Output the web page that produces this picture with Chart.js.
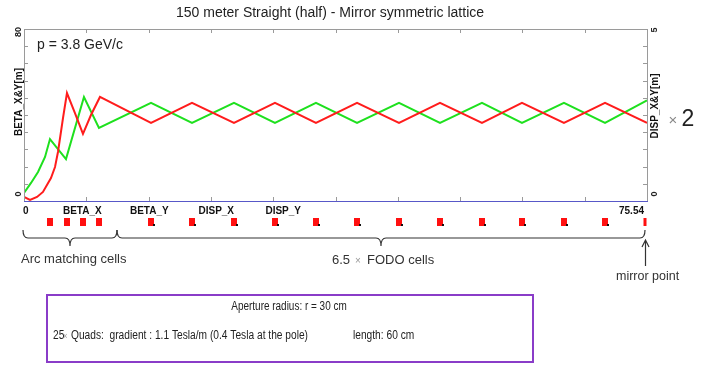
<!DOCTYPE html>
<html>
<head>
<meta charset="utf-8">
<script src="https://cdn.jsdelivr.net/npm/chart.js@4"></script>
<style>
  body { margin: 0; background: #fff; }
  #lattice { display: block; }
</style>
</head>
<body>
<canvas id="lattice" width="706" height="376"></canvas>
<script>
// beta functions along the half straight (s in metres)
const sBetaX = [0, 0.73, 1.58, 2.3, 3.27, 3.76, 4.12, 4.73, 5.21, 6.18, 7.15, 8.12, 9.21,
  15.4, 20.37, 25.46, 30.43, 35.4, 40.38, 45.47, 50.44, 55.53, 60.38, 65.47, 70.45, 75.54];
const betaX = [1.9, 0.5, 1.9, 4.2, 10.7, 15.8, 22.8, 38.6, 50.2, 40.9, 31.2, 40.0, 48.4,
  36.3, 45.6, 36.3, 45.6, 36.3, 45.6, 36.3, 45.6, 36.3, 45.6, 36.3, 45.6, 36.3];

const sBetaY = [0, 0.85, 1.7, 2.55, 3.15, 5.09, 7.27, 9.09,
  15.4, 20.37, 25.46, 30.43, 35.4, 40.38, 45.47, 50.44, 55.53, 60.38, 65.47, 70.45, 75.54];
const betaY = [3.7, 8.4, 13.5, 20.5, 28.8, 19.5, 48.4, 34.0,
  45.6, 36.3, 45.6, 36.3, 45.6, 36.3, 45.6, 36.3, 45.6, 36.3, 45.6, 36.3, 46.8];

// quadrupole positions (first four = arc matching)
const quadPos = [3.15, 5.21, 7.15, 9.09, 15.4, 20.37, 25.46, 30.43, 35.4, 40.38,
  45.47, 50.44, 55.53, 60.38, 65.47, 70.45, 75.3];
const matchingQuads = 4;

const sMax = 75.54;
const betaRange = [0, 80];
const dispRange = [0, 5];
const legendNames = ['BETA_X', 'BETA_Y', 'DISP_X', 'DISP_Y'];
const xEndLabels = ['0', '75.54'];

const SANS = '"Liberation Sans", Arial, sans-serif';

function text(ctx, str, x, y, font, color, align, rot, sx) {
  ctx.save();
  ctx.font = font;
  ctx.fillStyle = color;
  ctx.textAlign = align || 'left';
  ctx.textBaseline = 'middle';
  ctx.translate(x, y);
  if (rot) ctx.rotate(rot);
  if (sx) ctx.scale(sx, 1); // fake a narrow face
  ctx.fillText(str, 0, 0);
  ctx.restore();
}

// horizontal curly brace, opening upward, tip pointing down
function brace(ctx, x1, x2, xm, y, h) {
  const r = 5;
  ctx.beginPath();
  ctx.moveTo(x1, y - h);
  ctx.quadraticCurveTo(x1, y, x1 + r, y);
  ctx.lineTo(xm - r, y);
  ctx.quadraticCurveTo(xm, y, xm, y + h);
  ctx.quadraticCurveTo(xm, y, xm + r, y);
  ctx.lineTo(x2 - r, y);
  ctx.quadraticCurveTo(x2, y, x2, y - h);
  ctx.stroke();
}

const framePlugin = {
  id: 'frame',
  afterDatasetsDraw(chart) {
    const ctx = chart.ctx;
    const a = chart.chartArea;
    const x = chart.scales.x, y = chart.scales.y, y2 = chart.scales.y2;

    ctx.save();
    ctx.lineWidth = 1;
    ctx.strokeStyle = '#9a9a9a';
    ctx.beginPath();
    ctx.moveTo(a.left + 0.5, a.bottom);
    ctx.lineTo(a.left + 0.5, a.top + 0.5);
    ctx.lineTo(a.right + 0.5, a.top + 0.5);
    ctx.lineTo(a.right + 0.5, a.bottom);
    // inward tick marks
    for (let i = 0; i <= 10; i++) {
      const px = Math.round(x.getPixelForValue(sMax * i / 10)) + 0.5;
      ctx.moveTo(px, a.top); ctx.lineTo(px, a.top + 4);
      ctx.moveTo(px, a.bottom); ctx.lineTo(px, a.bottom - 4);
      const py = Math.round(y.getPixelForValue(betaRange[0] + (betaRange[1] - betaRange[0]) * i / 10)) + 0.5;
      ctx.moveTo(a.left, py); ctx.lineTo(a.left + 4, py);
      const py2 = Math.round(y2.getPixelForValue(dispRange[0] + (dispRange[1] - dispRange[0]) * i / 10)) + 0.5;
      ctx.moveTo(a.right, py2); ctx.lineTo(a.right - 4, py2);
    }
    ctx.stroke();
    ctx.strokeStyle = '#5858c8';
    ctx.beginPath();
    ctx.moveTo(a.left, a.bottom + 0.5);
    ctx.lineTo(a.right + 1, a.bottom + 0.5);
    ctx.stroke();
    ctx.restore();
  },
  afterDraw(chart) {
    const ctx = chart.ctx;
    const a = chart.chartArea;
    const x = chart.scales.x;
    const bold9 = 'bold 9px ' + SANS;
    const bold10 = 'bold 10px ' + SANS;
    const up = -Math.PI / 2;

    text(ctx, '150 meter Straight (half) - Mirror symmetric lattice', 330, 13, '14px ' + SANS, '#222', 'center');
    text(ctx, 'p = 3.8 GeV/c', 37, 45, '14px ' + SANS, '#222');

    // left axis
    text(ctx, String(betaRange[1]), a.left - 5, a.top + 3, bold9, '#222', 'center', up);
    text(ctx, String(betaRange[0]), a.left - 5, a.bottom - 7, bold9, '#222', 'center', up);
    text(ctx, 'BETA_X&Y[m]', a.left - 5, 102, bold10, '#111', 'center', up);

    // right axis
    text(ctx, String(dispRange[1]), a.right + 8, a.top + 1, bold9, '#222', 'center', up);
    text(ctx, String(dispRange[0]), a.right + 8, a.bottom - 7, bold9, '#222', 'center', up);
    text(ctx, 'DISP_X&Y[m]', a.right + 8, 106, bold10, '#111', 'center', up);
    text(ctx, '\u00d7', a.right + 26, 121, '15px ' + SANS, '#888', 'center');
    text(ctx, '2', a.right + 41, 120, '23px ' + SANS, '#222', 'center');

    // bottom labels
    const ly = a.bottom + 10;
    text(ctx, xEndLabels[0], x.getPixelForValue(0) - 1, ly, bold10, '#111', 'left');
    text(ctx, xEndLabels[1], x.getPixelForValue(sMax) - 3, ly, bold10, '#111', 'right');
    const step = x.getPixelForValue(sMax / 10) - x.getPixelForValue(0);
    legendNames.forEach((n, i) => {
      text(ctx, n, x.getPixelForValue(sMax / 10) - 4 + i * step * 1.075, ly, bold10, '#111', 'center');
    });

    // quadrupoles
    const qy = a.bottom + 17;
    quadPos.forEach((q, i) => {
      const px = Math.round(x.getPixelForValue(q));
      const last = i === quadPos.length - 1;
      const w = last ? 3 : 6;
      ctx.fillStyle = '#ff1010';
      ctx.fillRect(px - w / 2, qy, w, 8);
      if (i >= matchingQuads && !last) {
        ctx.fillStyle = '#111';
        ctx.fillRect(px + 2, qy + 6, 2, 2);
      }
    });

    // cell braces
    ctx.save();
    ctx.strokeStyle = '#333';
    ctx.lineWidth = 1.2;
    const bx0 = x.getPixelForValue(0) - 1;
    const bx1 = 117;
    const bx2 = x.getPixelForValue(sMax) - 2;
    brace(ctx, bx0, bx1, 70, 238, 8);
    brace(ctx, bx1, bx2, 381, 238, 8);

    // mirror arrow
    const ax = x.getPixelForValue(sMax) - 1.5;
    ctx.beginPath();
    ctx.moveTo(ax, 241); ctx.lineTo(ax, 266);
    ctx.moveTo(ax - 3.5, 247); ctx.lineTo(ax, 240); ctx.lineTo(ax + 3.5, 247);
    ctx.stroke();
    ctx.restore();

    text(ctx, 'Arc matching cells', 21, 259, '13px ' + SANS, '#333');
    text(ctx, '6.5', 332, 260, '13px ' + SANS, '#333');
    text(ctx, '\u00d7', 355, 261, '10px ' + SANS, '#999');
    text(ctx, 'FODO cells', 367, 260, '13px ' + SANS, '#333');
    text(ctx, 'mirror point', 616, 277, '12.5px ' + SANS, '#333');

    // info box
    ctx.save();
    ctx.strokeStyle = '#8a3cc8';
    ctx.lineWidth = 2;
    ctx.strokeRect(47, 295, 486, 67);
    ctx.restore();
    const f12 = '12px ' + SANS;
    text(ctx, 'Aperture radius: r = 30 cm', 289, 307, f12, '#222', 'center', 0, 0.83);
    text(ctx, '25', 53, 336, f12, '#222', 'left', 0, 0.85);
    text(ctx, '\u00d7', 63, 337, '9px ' + SANS, '#999', 'left', 0, 0.85);
    text(ctx, 'Quads:  gradient : 1.1 Tesla/m (0.4 Tesla at the pole)', 71, 336, f12, '#222', 'left', 0, 0.85);
    text(ctx, 'length: 60 cm', 353, 336, f12, '#222', 'left', 0, 0.85);
  }
};

class LatticeChart {
  constructor() {
    this.chart = null;
    this.initChart();
  }

  series(s, v) {
    return s.map((x, i) => ({ x: x, y: v[i] }));
  }

  initChart() {
    const ctx = document.getElementById('lattice').getContext('2d');
    this.chart = new Chart(ctx, {
      type: 'line',
      data: {
        datasets: [{
          label: 'BETA_X',
          data: this.series(sBetaX, betaX),
          borderColor: '#ff1c1c',
          borderWidth: 2,
          pointRadius: 0,
          tension: 0,
          yAxisID: 'y'
        }, {
          label: 'BETA_Y',
          data: this.series(sBetaY, betaY),
          borderColor: '#1ee01e',
          borderWidth: 2,
          pointRadius: 0,
          tension: 0,
          yAxisID: 'y'
        }]
      },
      options: {
        responsive: false,
        animation: false,
        layout: { padding: { left: 24, top: 29, right: 59, bottom: 175 } },
        plugins: { legend: { display: false }, tooltip: { enabled: false } },
        scales: {
          x: { type: 'linear', min: 0, max: sMax, display: false },
          y: { min: betaRange[0], max: betaRange[1], display: false },
          y2: { min: dispRange[0], max: dispRange[1], display: false, position: 'right' }
        }
      },
      plugins: [framePlugin]
    });
  }
}

new LatticeChart();
</script>
</body>
</html>
